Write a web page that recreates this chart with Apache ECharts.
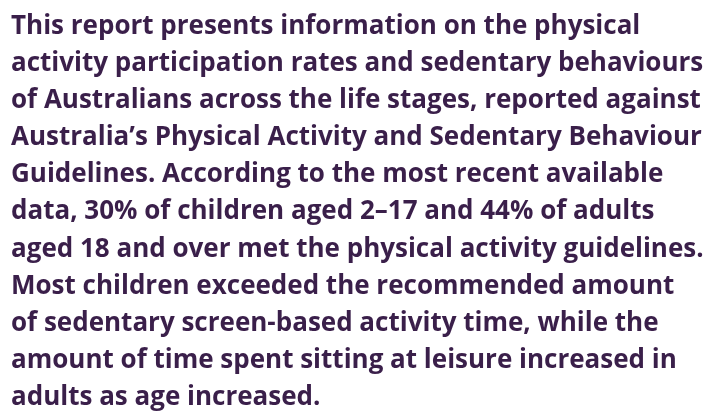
<!DOCTYPE html>
<html>
<head>
<meta charset="utf-8">
<script src="https://cdn.jsdelivr.net/npm/echarts@6/dist/echarts.min.js"></script>
<style>
  html, body { margin: 0; padding: 0; background: #fff; }
  #main { width: 709px; height: 414px; }
</style>
</head>
<body>
<div id="main"></div>
<script>
// lines of the paragraph, as wrapped in the original
const lines = [
  'This report presents information on the physical',
  'activity participation rates and sedentary behaviours',
  'of Australians across the life stages, reported against',
  'Australia\u2019s Physical Activity and Sedentary Behaviour',
  'Guidelines. According to the most recent available',
  'data, 30% of children aged 2\u201317 and 44% of adults',
  'aged 18 and over met the physical activity guidelines.',
  'Most children exceeded the recommended amount',
  'of sedentary screen-based activity time, while the',
  'amount of time spent sitting at leisure increased in',
  'adults as age increased.'
];

const chart = echarts.init(document.getElementById('main'));

const option = {
  backgroundColor: '#ffffff',
  graphic: [
    {
      type: 'text',
      left: 11,
      top: 8,
      style: {
        text: lines.join('\n'),
        fill: '#3a1f4a',
        font: 'bold 26px "Open Sans"',
        lineHeight: 37.1
      }
    }
  ]
};

chart.setOption(option);
</script>
</body>
</html>
